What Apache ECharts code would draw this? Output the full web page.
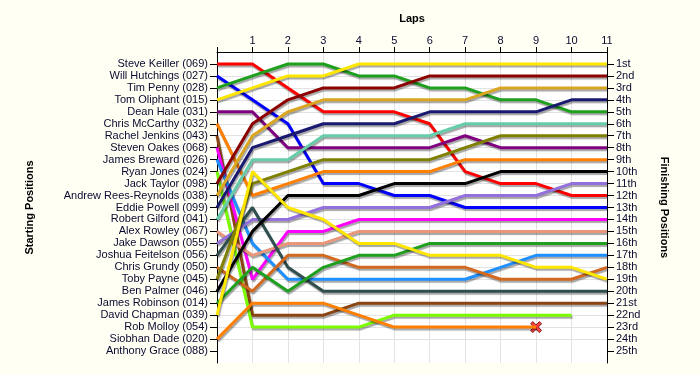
<!DOCTYPE html>
<html><head><meta charset="utf-8">
<script src="https://cdn.jsdelivr.net/npm/echarts@6/dist/echarts.min.js"></script>
<style>html,body{margin:0;padding:0;background:#fffff4}#c{width:700px;height:375px}</style>
</head><body><div id="c"></div>
<script>
// ---- data ----
const laps = [0,1,2,3,4,5,6,7,8,9,10,11];
const lapLabels = ['','1','2','3','4','5','6','7','8','9','10','11'];
const startingNames = ['Steve Keiller (069)','Will Hutchings (027)','Tim Penny (028)','Tom Oliphant (015)','Dean Hale (031)','Chris McCarthy (032)','Rachel Jenkins (043)','Steven Oakes (068)','James Breward (026)','Ryan Jones (024)','Jack Taylor (098)','Andrew Rees-Reynolds (038)','Eddie Powell (099)','Robert Gilford (041)','Alex Rowley (067)','Jake Dawson (055)','Joshua Feitelson (056)','Chris Grundy (050)','Toby Payne (045)','Ben Palmer (046)','James Robinson (014)','David Chapman (039)','Rob Molloy (054)','Siobhan Dade (020)','Anthony Grace (088)'];
const finishingLabels = ['1st','2nd','3rd','4th','5th','6th','7th','8th','9th','10th','11th','12th','13th','14th','15th','16th','17th','18th','19th','20th','21st','22nd','23rd','24th','25th'];

// positions per lap (lap 0 = start)
const steveKeiller       = [1,1,3,5,5,5,6,10,11,11,12,12];
const willHutchings      = [2,4,6,11,11,12,12,13,13,13,13,13];
const timPenny           = [3,2,1,1,2,2,3,3,4,4,5,5];
const tomOliphant        = [4,3,2,2,1,1,1,1,1,1,1,1];
const deanHale           = [5,5,8,8,8,8,8,7,8,8,8,8];
const chrisMcCarthy      = [6,12,11,10,10,10,10,9,9,9,9,9];
const rachelJenkins      = [7,22,22,22,21,21,21,21,21,21,21,21];
const stevenOakes        = [8,19,15,15,14,14,14,14,14,14,14,14];
const jamesBreward       = [9,16,19,19,19,19,19,19,18,17,17,17];
const ryanJones          = [10,23,23,23,23,22,22,22,22,22,22];
const jackTaylor         = [11,6,4,3,3,3,2,2,2,2,2,2];
const andrewReesReynolds = [12,7,5,4,4,4,4,4,3,3,3,3];
const eddiePowell        = [13,8,7,6,6,6,5,5,5,5,4,4];
const robertGilford      = [14,9,9,7,7,7,7,6,6,6,6,6];
const alexRowley         = [15,17,16,16,15,15,15,15,15,15,15,15];
const jakeDawson         = [16,14,14,13,13,13,13,12,12,12,11,11];
const joshuaFeitelson    = [17,13,18,20,20,20,20,20,20,20,20,20];
const chrisGrundy        = [18,20,17,17,18,18,18,18,19,19,19,18];
const tobyPayne          = [19,11,10,9,9,9,9,8,7,7,7,7];
const benPalmer          = [20,15,12,12,12,11,11,11,10,10,10,10];
const jamesRobinson      = [21,18,20,18,17,17,16,16,16,16,16,16];
const davidChapman       = [22,10,13,14,16,16,17,17,17,18,18,19];
const siobhanDade        = [24,21,21,21,22,23,23,23,23,23];
const retiredDrivers     = ['Siobhan Dade (020)'];

const driverSeries = [
  ['Steve Keiller (069)', steveKeiller],
  ['Will Hutchings (027)', willHutchings],
  ['Tim Penny (028)', timPenny],
  ['Tom Oliphant (015)', tomOliphant],
  ['Dean Hale (031)', deanHale],
  ['Chris McCarthy (032)', chrisMcCarthy],
  ['Rachel Jenkins (043)', rachelJenkins],
  ['Steven Oakes (068)', stevenOakes],
  ['James Breward (026)', jamesBreward],
  ['Ryan Jones (024)', ryanJones],
  ['Jack Taylor (098)', jackTaylor],
  ['Andrew Rees-Reynolds (038)', andrewReesReynolds],
  ['Eddie Powell (099)', eddiePowell],
  ['Robert Gilford (041)', robertGilford],
  ['Alex Rowley (067)', alexRowley],
  ['Jake Dawson (055)', jakeDawson],
  ['Joshua Feitelson (056)', joshuaFeitelson],
  ['Chris Grundy (050)', chrisGrundy],
  ['Toby Payne (045)', tobyPayne],
  ['Ben Palmer (046)', benPalmer],
  ['James Robinson (014)', jamesRobinson],
  ['David Chapman (039)', davidChapman],
  ['Siobhan Dade (020)', siobhanDade]
];
// ---- styles ----
const colors = {
  'Steve Keiller (069)':'#ff0000','Will Hutchings (027)':'#0000ff','Tim Penny (028)':'#1ea01e','Tom Oliphant (015)':'#ffe600',
  'Dean Hale (031)':'#800080','Chris McCarthy (032)':'#ff8000','Rachel Jenkins (043)':'#8b4513','Steven Oakes (068)':'#ff00ff',
  'James Breward (026)':'#1e90ff','Ryan Jones (024)':'#7cfc00','Jack Taylor (098)':'#8b0000','Andrew Rees-Reynolds (038)':'#daa520',
  'Eddie Powell (099)':'#191970','Robert Gilford (041)':'#66cdaa','Alex Rowley (067)':'#e9967a','Jake Dawson (055)':'#9370db',
  'Joshua Feitelson (056)':'#2f4f4f','Chris Grundy (050)':'#d2691e','Toby Payne (045)':'#808000','Ben Palmer (046)':'#000000',
  'James Robinson (014)':'#1ea01e','David Chapman (039)':'#ffe600','Siobhan Dade (020)':'#ff8000'
};
const txt = '#0a0a30';
const font = 'Liberation Sans, Arial, sans-serif';
const posTicks = startingNames.map((_, i) => i + 1);

const series = driverSeries.map(([name, pos]) => ({
  name, type: 'line', symbol: 'none', silent: true, animation: false,
  data: pos.map((p, i) => [laps[i], p]),
  lineStyle: { color: colors[name], width: 3, shadowColor: 'rgba(0,0,0,0.35)', shadowBlur: 1, shadowOffsetX: 1, shadowOffsetY: 2 },
  itemStyle: { color: colors[name] }
}));
series.push({
  type: 'scatter', animation: false, silent: true,
  symbol: 'path://M2,0 L5,3 L8,0 L10,2 L7,5 L10,8 L8,10 L5,7 L2,10 L0,8 L3,5 L0,2 Z',
  symbolSize: 11,
  itemStyle: { color: '#ff1010', borderColor: '#600000', borderWidth: 1 },
  data: driverSeries.filter(([n]) => retiredDrivers.includes(n)).map(([n, pos]) => [laps[pos.length - 1], pos[pos.length - 1]])
});

const chart = echarts.init(document.getElementById('c'), null, { renderer: 'canvas' });
chart.setOption({
  backgroundColor: '#fffff4',
  animation: false,
  grid: { left: 217, right: 93, top: 52, bottom: 12, show: true, backgroundColor: '#ffffff', borderWidth: 0 },
  xAxis: {
    type: 'value', position: 'top', min: 0, max: 11, interval: 1,
    name: 'Laps', nameLocation: 'middle', nameGap: 28,
    nameTextStyle: { fontFamily: font, fontSize: 11, fontWeight: 'bold', color: '#000' },
    axisLine: { show: true, lineStyle: { color: '#000', width: 1 } },
    axisTick: { show: true, length: 5, lineStyle: { color: '#000' } },
    axisLabel: { margin: 6, fontFamily: font, fontSize: 11, color: txt, formatter: v => lapLabels[v] },
    splitLine: { show: true, lineStyle: { color: '#e2e2e2', width: 1 } }
  },
  yAxis: [{
    type: 'value', position: 'left', inverse: true, min: 0, max: 26, interval: 1,
    name: 'Starting Positions', nameLocation: 'middle', nameGap: 182, nameRotate: 90,
    nameTextStyle: { fontFamily: font, fontSize: 11, fontWeight: 'bold', color: '#000' },
    axisLine: { show: true, lineStyle: { color: '#000', width: 1 } },
    axisTick: { show: true, length: 7, customValues: posTicks, lineStyle: { color: '#000' } },
    axisLabel: { margin: 9, fontFamily: font, fontSize: 11, color: txt, customValues: posTicks, formatter: v => startingNames[v - 1] || '' },
    splitLine: { show: true, showMinLine: false, showMaxLine: false, lineStyle: { color: '#e2e2e2', width: 1 } }
  }, {
    type: 'value', position: 'right', inverse: true, min: 0, max: 26, interval: 1,
    name: 'Finishing Positions', nameLocation: 'middle', nameGap: 52, nameRotate: -90,
    nameTextStyle: { fontFamily: font, fontSize: 11, fontWeight: 'bold', color: '#000' },
    axisLine: { show: true, lineStyle: { color: '#000', width: 1 } },
    axisTick: { show: true, length: 7, customValues: posTicks, lineStyle: { color: '#000' } },
    axisLabel: { margin: 9, fontFamily: font, fontSize: 11, color: txt, customValues: posTicks, formatter: v => finishingLabels[v - 1] || '' },
    splitLine: { show: false }
  }],
  series
});
</script></body></html>
